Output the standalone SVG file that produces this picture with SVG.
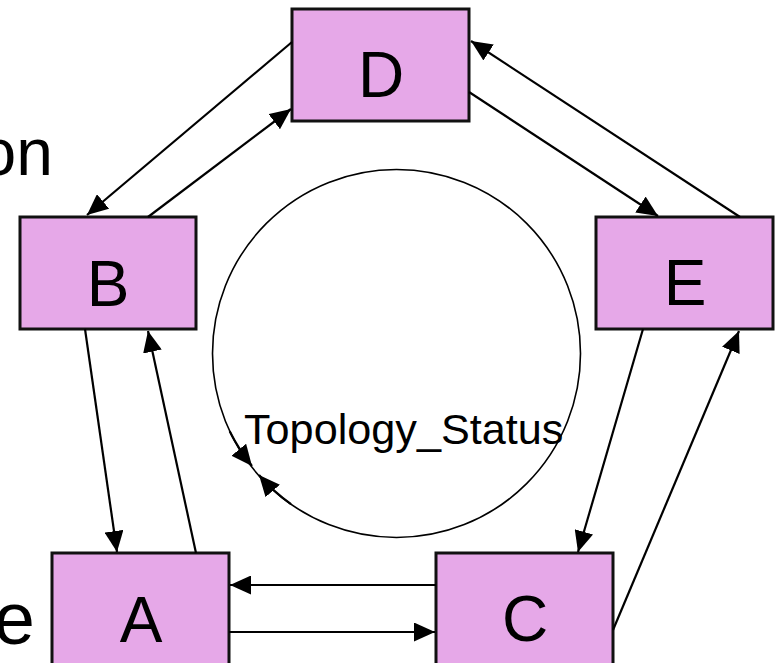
<svg xmlns="http://www.w3.org/2000/svg" width="776" height="663" viewBox="0 0 776 663">
<style>
.box{fill:#E6A8E8;stroke:#111;stroke-width:3}
.lbl{font-family:"Liberation Sans",Arial,sans-serif;font-size:64px;fill:#000;text-anchor:middle}
.edge{fill:none;stroke:#000;stroke-width:2.2;marker-end:url(#ah)}
.txt{font-family:"Liberation Sans",Arial,sans-serif;fill:#000}
</style>
<defs>
<marker id="ah" markerUnits="userSpaceOnUse" markerWidth="21" markerHeight="19" refX="21" refY="9.5" orient="auto" viewBox="0 0 21 19">
<path d="M0,0 L21,9.5 L0,19 z" fill="#000"/>
</marker>
</defs>
<rect width="776" height="663" fill="#fff"/>
<text class="txt" x="53" y="175" font-size="66" text-anchor="end">on</text>
<text class="txt" x="35" y="644" font-size="74" text-anchor="end">e</text>
<g id="topology_status">
<circle cx="396.5" cy="353.5" r="184" fill="none" stroke="#000" stroke-width="1.6"/>
<text class="txt" x="244" y="444" font-size="43.2">Topology_Status</text>
</g>
<g id="node-D"><rect class="box" x="292" y="9" width="177" height="112"/><text class="lbl" x="381" y="97">D</text></g>
<g id="node-B"><rect class="box" x="20" y="217" width="176" height="112"/><text class="lbl" x="108" y="306">B</text></g>
<g id="node-E"><rect class="box" x="596" y="217" width="177" height="112"/><text class="lbl" x="685" y="305">E</text></g>
<g id="node-A"><rect class="box" x="52" y="553" width="177" height="112"/><text class="lbl" x="141" y="642">A</text></g>
<g id="node-C"><rect class="box" x="436" y="553" width="177" height="112"/><text class="lbl" x="525" y="641">C</text></g>
<g id="connectors">
<line class="edge" x1="292" y1="42" x2="87" y2="215"/>
<line class="edge" x1="148" y1="217" x2="291" y2="109"/>
<line class="edge" x1="469" y1="92" x2="658" y2="216"/>
<line class="edge" x1="740" y1="217" x2="471" y2="41"/>
<line class="edge" x1="85" y1="329" x2="117" y2="552"/>
<line class="edge" x1="196" y1="553" x2="148" y2="331"/>
<line class="edge" x1="643" y1="329" x2="578" y2="552"/>
<line class="edge" x1="613" y1="630" x2="739" y2="331"/>
<line class="edge" x1="436" y1="585" x2="230" y2="585"/>
<line class="edge" x1="229" y1="632" x2="435" y2="632"/>
<path class="edge" stroke-width="1.6" d="M229.7,431.3 A184,184 0 0 0 252,466"/>
<path class="edge" stroke-width="1.6" d="M291,504.2 A184,184 0 0 1 259,475"/>
</g>
</svg>
